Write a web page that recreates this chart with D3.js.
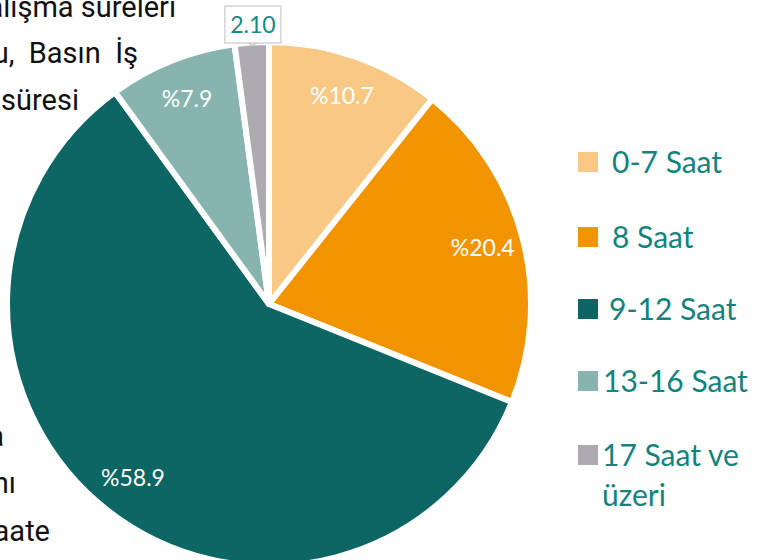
<!DOCTYPE html>
<html>
<head>
<meta charset="utf-8">
<script src="https://cdn.jsdelivr.net/npm/d3@7"></script>
<style>
  body { margin: 0; background: #fff; }
  svg { display: block; }
</style>
</head>
<body>
<script>
// chart values
var categories = ["0-7 Saat", "8 Saat", "9-12 Saat", "13-16 Saat", "17 Saat ve üzeri"];
var values = [10.7, 20.4, 58.9, 7.9, 2.1];
var sliceLabels = ["%10.7", "%20.4", "%58.9", "%7.9", "2.10"];
var colors = ["#F8C884", "#F29400", "#0D6663", "#88B4B0", "#AEABB0"];
var legendLines = [["0-7 Saat"], ["8 Saat"], ["9-12 Saat"], ["13-16 Saat"], ["17 Saat ve", "üzeri"]];

// body text that sits behind the chart (cut off on the page)
var bgTop = ["Gazetecilerin çalışma süreleri", "olduğu,  Basın  İş", "çalışma süresi"];
var bgBottom = ["haftada", "çalışmanı", "saate"];

var width = 767, height = 560;
var cx = 269, cy = 304, radius = 262;

var svg = d3.select("body").append("svg")
    .attr("width", width).attr("height", height);

// background paragraph fragments
var bg = svg.append("g")
    .attr("font-family", "Roboto, sans-serif")
    .attr("font-size", 29)
    .attr("fill", "#111")
    .attr("text-anchor", "end");
var topEnds = [176, 138, 79], topBase = [17, 63, 110];
bg.selectAll("text.t").data(bgTop).enter().append("text")
    .attr("class", "t")
    .attr("x", function(d, i){ return topEnds[i]; })
    .attr("y", function(d, i){ return topBase[i]; })
    .attr("xml:space", "preserve")
    .style("white-space", "pre")
    .text(function(d){ return d; });
var botEnds = [4, 16, 50], botBase = [446, 493, 541];
bg.selectAll("text.b").data(bgBottom).enter().append("text")
    .attr("class", "b")
    .attr("x", function(d, i){ return botEnds[i]; })
    .attr("y", function(d, i){ return botBase[i]; })
    .text(function(d){ return d; });

// pie
var pie = d3.pie().sort(null).value(function(d){ return d; });
var arcs = pie(values);
var arc = d3.arc().innerRadius(0).outerRadius(radius);
var labelArc = d3.arc().innerRadius(221).outerRadius(221);

var chartGroup = svg.append("g").attr("transform", "translate(" + cx + "," + cy + ")");

chartGroup.selectAll("path").data(arcs).enter().append("path")
    .attr("d", arc)
    .attr("fill", function(d, i){ return colors[i]; })
    .attr("stroke", "#fff")
    .attr("stroke-width", 6)
    .attr("stroke-linejoin", "round");

// labels inside slices
chartGroup.selectAll("text.lbl").data(arcs.slice(0, 4)).enter().append("text")
    .attr("class", "lbl")
    .attr("transform", function(d){ return "translate(" + labelArc.centroid(d) + ")"; })
    .attr("text-anchor", "middle")
    .attr("dy", "0.36em")
    .attr("font-family", "Lato, sans-serif")
    .attr("font-size", 23)
    .attr("fill", "#fff")
    .text(function(d, i){ return sliceLabels[i]; });

// callout for the thin slice
var small = arcs[4];
var smallMid = (small.startAngle + small.endAngle) / 2;
var edge = [Math.sin(smallMid) * (radius - 3), -Math.cos(smallMid) * (radius - 3)];
var boxW = 56, boxH = 37;
var boxX = edge[0] - 27, boxY = -radius - 36;
var callout = chartGroup.append("g");
callout.append("path")
    .attr("d", "M" + (edge[0] - 3) + "," + (boxY + boxH) + "L" + edge[0] + "," + edge[1] + "L" + (edge[0] + 5) + "," + (boxY + boxH))
    .attr("fill", "#fff")
    .attr("stroke", "#c8c8c8")
    .attr("stroke-width", 1.2);
callout.append("rect")
    .attr("x", boxX).attr("y", boxY)
    .attr("width", boxW).attr("height", boxH)
    .attr("fill", "#fff")
    .attr("stroke", "#c8c8c8")
    .attr("stroke-width", 1.2);
callout.append("text")
    .attr("x", boxX + boxW / 2).attr("y", boxY + 27)
    .attr("text-anchor", "middle")
    .attr("font-family", "Lato, sans-serif")
    .attr("font-size", 23)
    .attr("fill", "#138A84")
    .text(sliceLabels[4]);

// legend
var legendY = [152, 227, 299, 371, 445];
var textX = [612, 612, 609, 603, 602];
var legend = svg.append("g");
var item = legend.selectAll("g").data(categories).enter().append("g");
item.append("rect")
    .attr("x", 578)
    .attr("y", function(d, i){ return legendY[i]; })
    .attr("width", 20).attr("height", 20)
    .attr("fill", function(d, i){ return colors[i]; });
item.each(function(d, i){
  d3.select(this).selectAll("text").data(legendLines[i]).enter().append("text")
      .attr("x", textX[i])
      .attr("y", function(t, j){ return legendY[i] + 21 + j * 40; })
      .attr("font-family", "Lato, sans-serif")
      .attr("font-size", 30)
      .attr("fill", "#12847E")
      .text(function(t){ return t; });
});
</script>
</body>
</html>
